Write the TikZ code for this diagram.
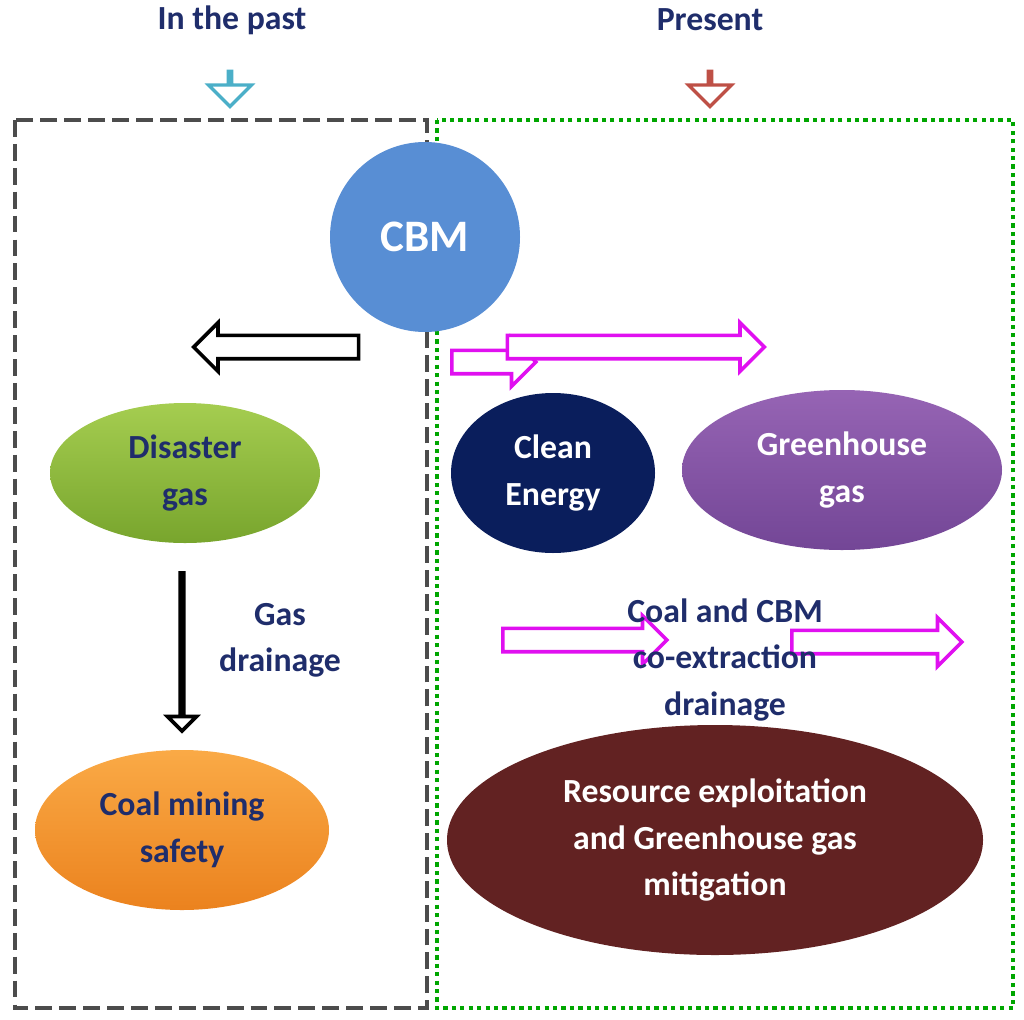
\documentclass[tikz,border=0pt]{standalone}
\usepackage{fontspec}
\setmainfont{Carlito}
\usetikzlibrary{shapes.arrows,shapes.geometric}
\definecolor{navy}{HTML}{1F2D6B}
\definecolor{mag}{HTML}{E010F0}
\begin{document}
\begin{tikzpicture}[x=0.025cm,y=-0.025cm,
 lab/.style={font=\fontsize{24}{33}\selectfont\bfseries,align=center},
 ell/.style={ellipse,inner sep=0},
 harrow/.style={single arrow,draw,fill=white,line width=2.6pt,inner xsep=0pt,text height=0pt,text depth=0pt,inner ysep=7pt,single arrow head extend=9pt,single arrow head indent=0pt,anchor=center},
 tarrow/.style={single arrow,draw,fill=white,line width=2.4pt,inner xsep=0pt,text height=0pt,text depth=0pt,inner ysep=10pt,single arrow head extend=14pt,single arrow head indent=0pt,anchor=center,minimum height=25pt,shape border rotate=270}]
\useasboundingbox (0,0) rectangle (1024,1019);
\node[lab,text=navy] (past) at (232,20) {In the past};
\node[lab,text=navy] (pres) at (710,20) {Present};
\node[tarrow,draw={rgb,255:red,75;green,175;blue,200}] (ta) at (230,88) {};
\node[tarrow,draw={rgb,255:red,190;green,80;blue,70}] (tb) at (710,88) {};
\draw[line width=3pt,dash pattern=on 12pt off 5pt,black!70] (15,120) rectangle (427,1008);
\draw[line width=3.5pt,dash pattern=on 3pt off 3pt,green!65!black] (437,120) rectangle (1013,1008);
\node[circle,fill={rgb,255:red,88;green,142;blue,212},minimum size=190*0.025cm,inner sep=0,text=white,font=\fontsize{32}{36}\selectfont\bfseries] (cbm) at (425,237) {CBM};
\node[ell,top color={rgb,255:red,165;green,205;blue,80},bottom color={rgb,255:red,120;green,165;blue,45},minimum width=270*0.025cm,minimum height=140*0.025cm,lab,text=navy] (dis) at (185,473) {Disaster\\gas};
\node[ell,top color={rgb,255:red,250;green,170;blue,70},bottom color={rgb,255:red,235;green,130;blue,30},minimum width=294*0.025cm,minimum height=160*0.025cm,lab,text=navy] (coal) at (182,830) {Coal mining\\safety};
\node[ell,fill={rgb,255:red,10;green,30;blue,92},minimum width=204*0.025cm,minimum height=160*0.025cm,lab,text=white] (clean) at (553,473) {Clean\\Energy};
\node[ell,top color={rgb,255:red,150;green,100;blue,180},bottom color={rgb,255:red,115;green,70;blue,150},minimum width=320*0.025cm,minimum height=160*0.025cm,lab,text=white] (green) at (842,470) {Greenhouse\\gas};
\node[ell,fill={rgb,255:red,98;green,34;blue,34},minimum width=536*0.025cm,minimum height=230*0.025cm,lab,text=white] (res) at (715,840) {Resource exploitation\\and Greenhouse gas\\mitigation};
\node[lab,text=navy] (gd) at (280,640) {Gas\\drainage};
% hollow arrows
\node[harrow,minimum height=165*0.025cm,shape border rotate=215] (a1) at (282,347) {};
\node[harrow,minimum height=158*0.025cm,shape border rotate=270] (a2) at (182,651) {};
\node[harrow,draw=mag,minimum height=84*0.025cm,shape border rotate=-51] (a3) at (488,362) {};
\node[harrow,draw=mag,minimum height=257*0.025cm,shape border rotate=-27] (a4) at (630,347) {};
\node[harrow,draw=mag,minimum height=164*0.025cm,shape border rotate=-77] (a5) at (579,640) {};
\node[harrow,draw=mag,minimum height=170*0.025cm,shape border rotate=-105] (a6) at (871,642) {};
\node[lab,text=navy] (ce) at (725,660) {Coal and CBM\\co-extraction\\drainage};
\end{tikzpicture}
\end{document}
